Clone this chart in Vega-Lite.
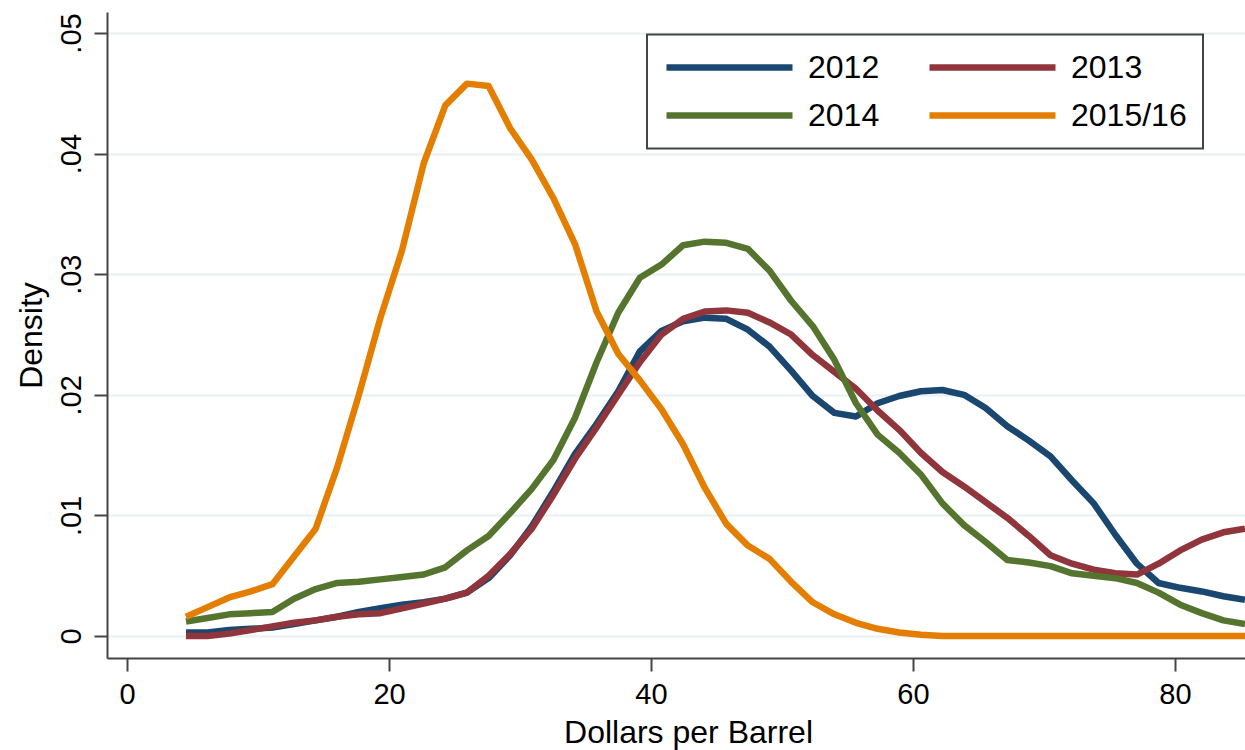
{
  "$schema": "https://vega.github.io/schema/vega-lite/v6.json",
  "width": 1138,
  "height": 646,
  "autosize": {"type": "none"},
  "padding": {"left": 107, "top": 12, "right": 0, "bottom": 92},
  "background": "white",
  "config": {
    "view": {"stroke": null},
    "font": "Liberation Sans",
    "legend": {"strokeWidth": 2}
  },
  "datasets": {
    "grid": [
      {"x": 4.5, "a": 0.0003, "b": 0.0000, "c": 0.0012, "d": 0.0016},
      {"x": 6.15, "a": 0.0003, "b": 0.0000, "c": 0.0015, "d": 0.0024},
      {"x": 7.8, "a": 0.0005, "b": 0.0002, "c": 0.0018, "d": 0.0032},
      {"x": 9.45, "a": 0.0006, "b": 0.0005, "c": 0.0019, "d": 0.0037},
      {"x": 11.1, "a": 0.0007, "b": 0.0008, "c": 0.0020, "d": 0.0043},
      {"x": 12.75, "a": 0.0010, "b": 0.0011, "c": 0.0031, "d": 0.0066},
      {"x": 14.4, "a": 0.0013, "b": 0.0013, "c": 0.0039, "d": 0.0089},
      {"x": 16.05, "a": 0.0016, "b": 0.0016, "c": 0.0044, "d": 0.0140},
      {"x": 17.7, "a": 0.0020, "b": 0.0018, "c": 0.0045, "d": 0.0200},
      {"x": 19.35, "a": 0.0023, "b": 0.0019, "c": 0.0047, "d": 0.0264},
      {"x": 21.0, "a": 0.0026, "b": 0.0023, "c": 0.0049, "d": 0.0320},
      {"x": 22.65, "a": 0.0028, "b": 0.0027, "c": 0.0051, "d": 0.0392},
      {"x": 24.3, "a": 0.0031, "b": 0.0031, "c": 0.0057, "d": 0.0440},
      {"x": 25.95, "a": 0.0036, "b": 0.0036, "c": 0.0071, "d": 0.0458},
      {"x": 27.6, "a": 0.0048, "b": 0.0050, "c": 0.0083, "d": 0.0456},
      {"x": 29.25, "a": 0.0067, "b": 0.0068, "c": 0.0102, "d": 0.0421},
      {"x": 30.9, "a": 0.0091, "b": 0.0089, "c": 0.0122, "d": 0.0395},
      {"x": 32.55, "a": 0.0120, "b": 0.0117, "c": 0.0146, "d": 0.0363},
      {"x": 34.2, "a": 0.0151, "b": 0.0147, "c": 0.0181, "d": 0.0325},
      {"x": 35.85, "a": 0.0176, "b": 0.0173, "c": 0.0227, "d": 0.0269},
      {"x": 37.5, "a": 0.0203, "b": 0.0200, "c": 0.0268, "d": 0.0234},
      {"x": 39.15, "a": 0.0236, "b": 0.0227, "c": 0.0297, "d": 0.0212},
      {"x": 40.8, "a": 0.0253, "b": 0.0250, "c": 0.0308, "d": 0.0188},
      {"x": 42.45, "a": 0.0261, "b": 0.0263, "c": 0.0324, "d": 0.0159},
      {"x": 44.1, "a": 0.0264, "b": 0.0269, "c": 0.0327, "d": 0.0123},
      {"x": 45.75, "a": 0.0263, "b": 0.0270, "c": 0.0326, "d": 0.0093},
      {"x": 47.4, "a": 0.0254, "b": 0.0268, "c": 0.0321, "d": 0.0075},
      {"x": 49.05, "a": 0.0240, "b": 0.0260, "c": 0.0303, "d": 0.0064},
      {"x": 50.7, "a": 0.0220, "b": 0.0250, "c": 0.0278, "d": 0.0045},
      {"x": 52.35, "a": 0.0199, "b": 0.0233, "c": 0.0257, "d": 0.0028},
      {"x": 54.0, "a": 0.0185, "b": 0.0219, "c": 0.0229, "d": 0.0018},
      {"x": 55.65, "a": 0.0182, "b": 0.0205, "c": 0.0193, "d": 0.0011},
      {"x": 57.3, "a": 0.0193, "b": 0.0187, "c": 0.0167, "d": 0.0006},
      {"x": 58.95, "a": 0.0199, "b": 0.0171, "c": 0.0152, "d": 0.0003},
      {"x": 60.6, "a": 0.0203, "b": 0.0152, "c": 0.0134, "d": 0.0001},
      {"x": 62.25, "a": 0.0204, "b": 0.0136, "c": 0.0110, "d": 0.0},
      {"x": 63.9, "a": 0.0200, "b": 0.0124, "c": 0.0092, "d": 0.0},
      {"x": 65.55, "a": 0.0189, "b": 0.0111, "c": 0.0078, "d": 0.0},
      {"x": 67.2, "a": 0.0174, "b": 0.0098, "c": 0.0063, "d": 0.0},
      {"x": 68.85, "a": 0.0162, "b": 0.0083, "c": 0.0061, "d": 0.0},
      {"x": 70.5, "a": 0.0149, "b": 0.0067, "c": 0.0058, "d": 0.0},
      {"x": 72.15, "a": 0.0129, "b": 0.0060, "c": 0.0052, "d": 0.0},
      {"x": 73.8, "a": 0.0110, "b": 0.0055, "c": 0.0050, "d": 0.0},
      {"x": 75.45, "a": 0.0084, "b": 0.0052, "c": 0.0048, "d": 0.0},
      {"x": 77.1, "a": 0.0060, "b": 0.0051, "c": 0.0044, "d": 0.0},
      {"x": 78.75, "a": 0.0044, "b": 0.0060, "c": 0.0036, "d": 0.0},
      {"x": 80.4, "a": 0.0040, "b": 0.0071, "c": 0.0026, "d": 0.0},
      {"x": 82.05, "a": 0.0037, "b": 0.0080, "c": 0.0019, "d": 0.0},
      {"x": 83.7, "a": 0.0033, "b": 0.0086, "c": 0.0013, "d": 0.0},
      {"x": 85.35, "a": 0.0030, "b": 0.0089, "c": 0.0010, "d": 0.0}
    ],
    "names": [
      {"key": "a", "series": "2012"},
      {"key": "b", "series": "2013"},
      {"key": "c", "series": "2014"},
      {"key": "d", "series": "2015/16"}
    ]
  },
  "data": {"name": "grid"},
  "transform": [
    {"fold": ["a", "b", "c", "d"], "as": ["key", "density"]},
    {"lookup": "key", "from": {"data": {"name": "names"}, "key": "key", "fields": ["series"]}}
  ],
  "mark": {"type": "line", "strokeWidth": 6.5, "strokeJoin": "round", "strokeCap": "butt", "clip": true},
  "encoding": {
    "x": {
      "field": "x",
      "type": "quantitative",
      "scale": {"domain": [-1.53, 85.35], "nice": false, "zero": false},
      "axis": {
        "title": "Dollars per Barrel",
        "values": [0, 20, 40, 60, 80],
        "format": "d",
        "grid": false,
        "domainColor": "#444444",
        "domainWidth": 2,
        "tickColor": "#444444",
        "tickWidth": 2,
        "tickSize": 13,
        "labelFont": "Liberation Sans",
        "labelFontSize": 29,
        "labelColor": "#000000",
        "labelBaseline": "alphabetic",
        "labelPadding": 32,
        "labelFlush": false,
        "titleFont": "Liberation Sans",
        "titleFontSize": 32,
        "titleFontWeight": "normal",
        "titleColor": "#000000",
        "titleBaseline": "alphabetic",
        "titlePadding": 33,
        "titleX": 581
      }
    },
    "y": {
      "field": "density",
      "type": "quantitative",
      "scale": {"domain": [-0.00182, 0.05174], "nice": false, "zero": false},
      "axis": {
        "title": "Density",
        "values": [0, 0.01, 0.02, 0.03, 0.04, 0.05],
        "format": ".2f",
        "labelExpr": "datum.value == 0 ? '0' : replace(datum.label, '0.', '.')",
        "grid": true,
        "gridColor": "#e8f0f2",
        "gridWidth": 2,
        "domainColor": "#444444",
        "domainWidth": 2,
        "tickColor": "#444444",
        "tickWidth": 2,
        "tickSize": 13,
        "labelFont": "Liberation Sans",
        "labelFontSize": 29,
        "labelColor": "#000000",
        "labelAngle": 270,
        "labelAlign": "center",
        "labelBaseline": "alphabetic",
        "labelPadding": 14,
        "labelFlush": false,
        "titleFont": "Liberation Sans",
        "titleFontSize": 32,
        "titleFontWeight": "normal",
        "titleColor": "#000000",
        "titlePadding": 9
      }
    },
    "color": {
      "field": "series",
      "type": "nominal",
      "scale": {
        "domain": ["2012", "2013", "2014", "2015/16"],
        "range": ["#1a476f", "#90353b", "#55752f", "#e37e00"]
      },
      "legend": {
        "title": null,
        "orient": "none",
        "direction": "horizontal",
        "legendX": 540,
        "legendY": 22.5,
        "columns": 2,
        "columnPadding": 46,
        "rowPadding": 14,
        "padding": 16,
        "clipHeight": 34,
        "symbolType": "stroke",
        "symbolSize": 15876,
        "symbolStrokeWidth": 6.5,
        "labelOffset": 12,
        "labelFont": "Liberation Sans",
        "labelFontSize": 32,
        "labelColor": "#000000",
        "labelLimit": 400,
        "strokeColor": "#444444",
        "fillColor": "#ffffff"
      }
    }
  }
}
